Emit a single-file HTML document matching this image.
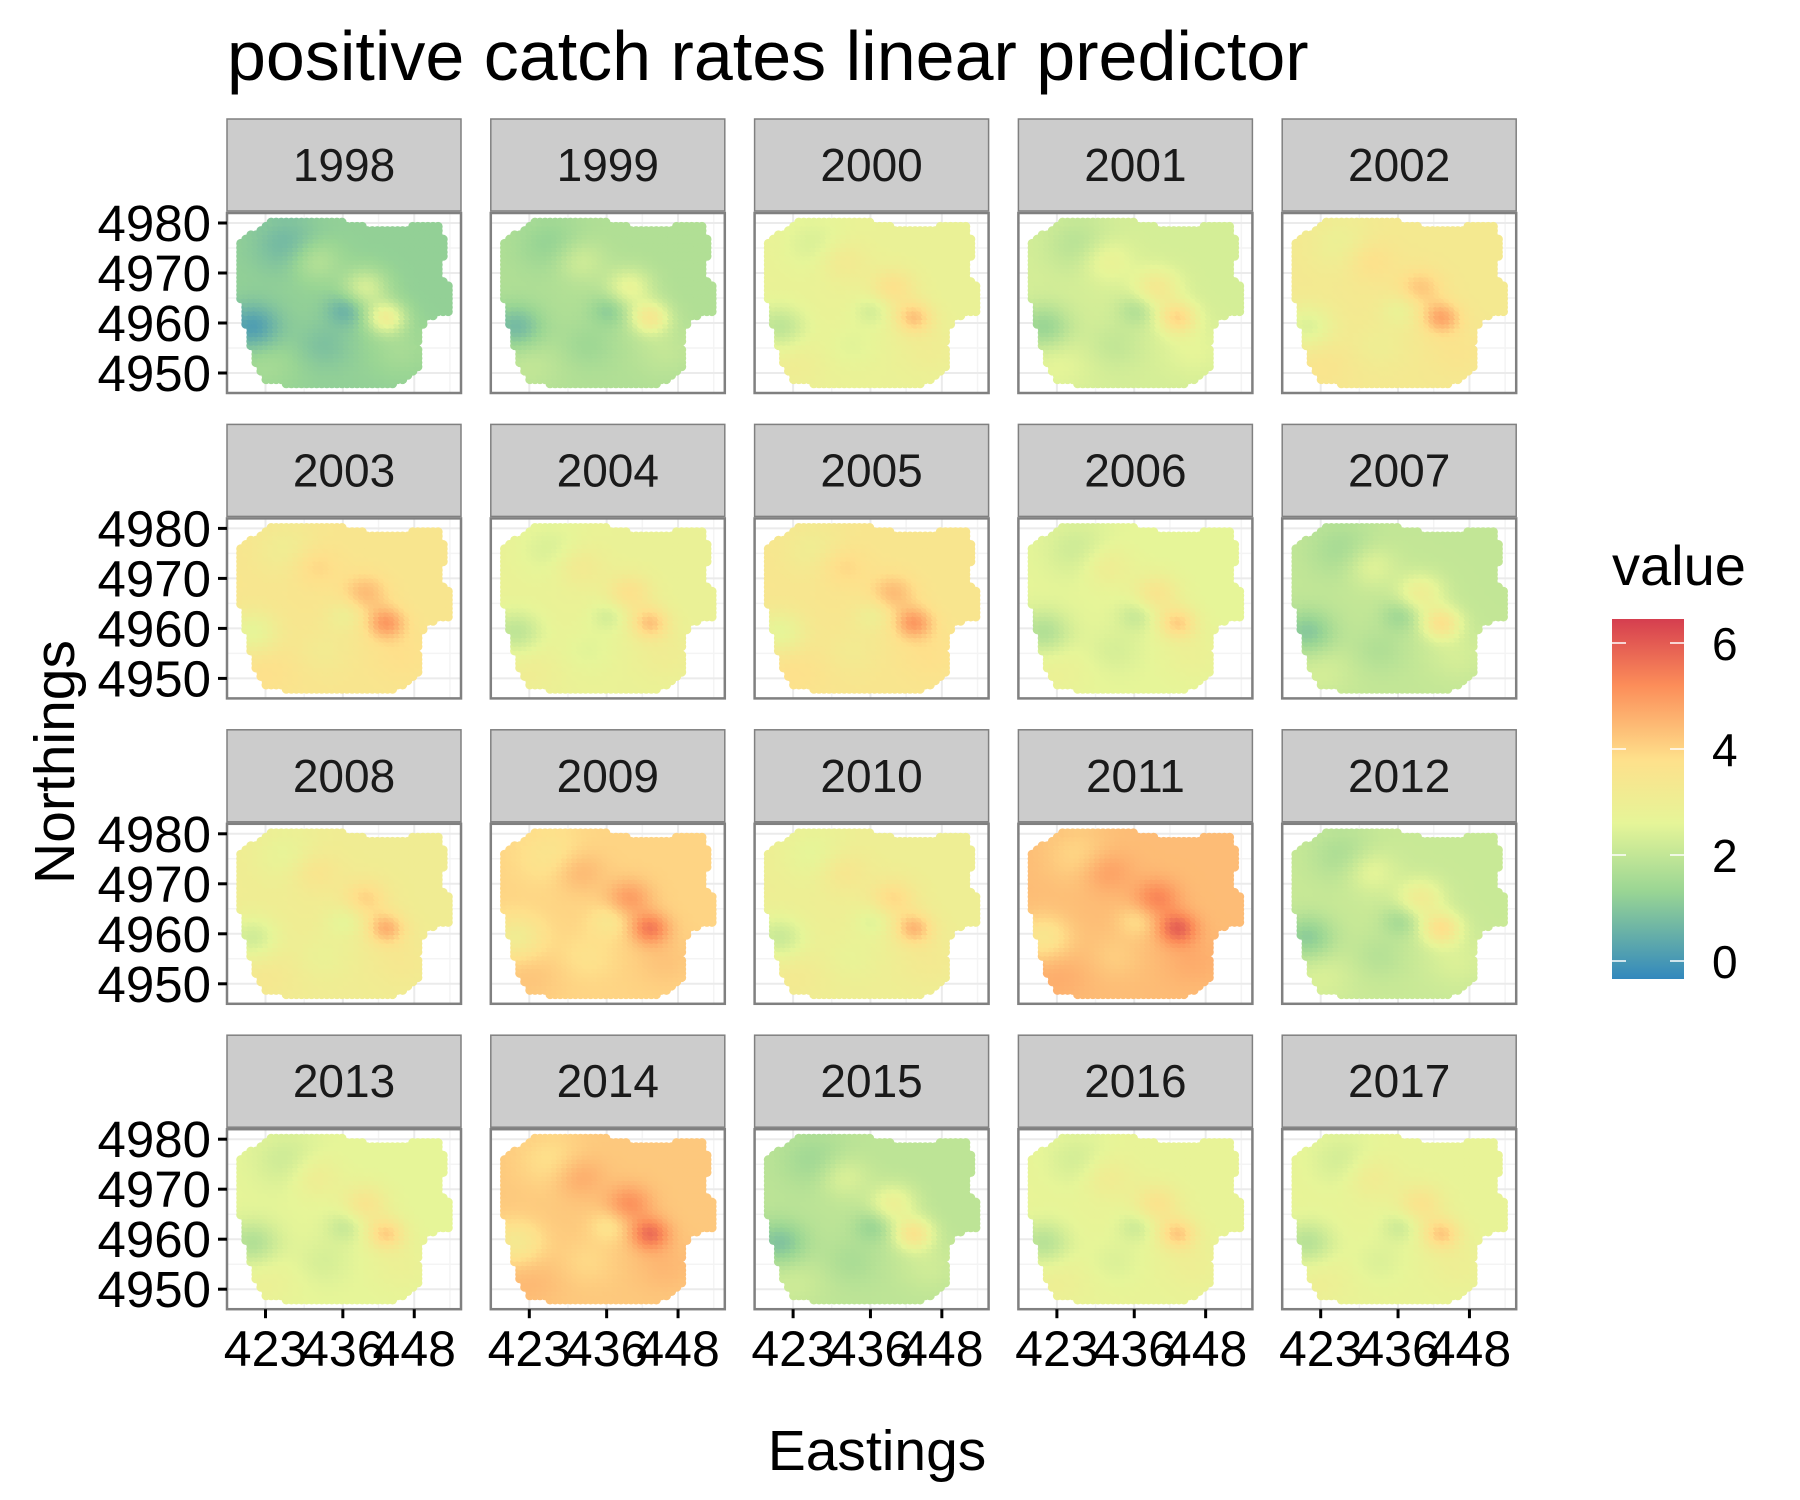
<!DOCTYPE html>
<html><head><meta charset="utf-8"><style>
html,body{margin:0;padding:0;background:#fff}
svg{display:block;font-family:"Liberation Sans",Arial,sans-serif}
</style></head><body>
<svg id="chart" width="1800" height="1500" viewBox="0 0 1800 1500">
<text x="227" y="80" font-size="70" fill="#000">positive catch rates linear predictor</text>
<text x="877" y="1470" font-size="57" text-anchor="middle" fill="#000">Eastings</text>
<text transform="translate(74,762) rotate(-90)" font-size="57" text-anchor="middle" fill="#000">Northings</text>
<defs>
<linearGradient id="cbar" x1="0" y1="1" x2="0" y2="0"></linearGradient>
</defs>
<g id="panels"></g>
<g id="legend">
<text x="1612" y="585" font-size="56">value</text>
<rect x="1612" y="619" width="72" height="360" fill="url(#cbar)"/>
</g>
</svg>
<script>
// ---- data ----
const years = [1998,1999,2000,2001,2002,2003,2004,2005,2006,2007,2008,2009,2010,2011,2012,2013,2014,2015,2016,2017];
const yearMeans = [1.2,1.7,2.8,2.3,3.3,3.5,2.8,3.5,2.6,2.0,3.1,4.0,3.0,4.4,2.1,2.6,4.2,1.9,2.7,2.7];
const yearSpread = [1.1,1.0,0.9,1.0,0.9,0.9,0.9,0.9,0.9,1.0,0.9,0.9,0.9,0.9,1.0,0.9,0.9,1.0,0.9,0.9];
const hotX = [440,443.5,431.5,421,436.6,427,423,433,446];
const hotY = [4967.5,4961.5,4973,4959.6,4963,4976,4952,4956,4955];
const hotAmp = [1.0,1.6,0.6,-1.0,-0.6,-0.5,0.3,-0.3,0.3];
const hotW = [14,10,18,20,10,30,30,20,25];
const regionX = [418.5,424,433,441,452,453.5,452,454,454,450,448.5,449,446,438,428,423,421,419.5,418];
const regionY = [4976,4980.5,4981,4979,4979.5,4975,4970,4967,4962,4961,4956,4951,4948,4947,4947.5,4948.5,4953,4960,4970];
const xTicks = [423,436,448];
const yTicks = [4950,4960,4970,4980];
const legendTicks = [0,2,4,6];
const palette = ["#3288BD","#99D594","#E6F598","#FEE08B","#FC8D59","#D53E4F"];
const paletteStops = [-0.34,1.3,2.6,3.8,5.2,6.45];

// ---- layout ----
const NS="http://www.w3.org/2000/svg";
const colLeft = c => 227 + c*263.8;
const rowTop = r => 119 + r*305.4;
const PW=234, STRIP=92, PH=180;
const xScale = (v,left) => left + 38.5 + (v-423)*5.95;
const yScale = (v,top) => top + STRIP + 2 + 10 + (4980-v)*5;
const cScale = v => 961 - v*53;

function hex(h){return [parseInt(h.slice(1,3),16),parseInt(h.slice(3,5),16),parseInt(h.slice(5,7),16)];}
function colorFor(v){
  if(v<=paletteStops[0]) return palette[0];
  for(let i=1;i<paletteStops.length;i++){
    if(v<=paletteStops[i]){
      const t=(v-paletteStops[i-1])/(paletteStops[i]-paletteStops[i-1]);
      const a=hex(palette[i-1]), b=hex(palette[i]);
      return `rgb(${a.map((x,k)=>Math.round(x+(b[k]-x)*t)).join(",")})`;
    }
  }
  return palette[palette.length-1];
}
function inside(x,y){
  let c=false;
  for(let i=0,j=regionX.length-1;i<regionX.length;j=i++){
    if(((regionY[i]>y)!==(regionY[j]>y)) && (x < (regionX[j]-regionX[i])*(y-regionY[i])/(regionY[j]-regionY[i])+regionX[i])) c=!c;
  }
  return c;
}
function field(x,y){
  let f=0;
  for(let k=0;k<hotX.length;k++){
    const d2=(x-hotX[k])**2+(y-hotY[k])**2;
    f+=hotAmp[k]*Math.exp(-d2/hotW[k]);
  }
  return f;
}
function mk(tag,attrs,parent){
  const e=document.createElementNS(NS,tag);
  for(const k in attrs) e.setAttribute(k,attrs[k]);
  parent.appendChild(e); return e;
}
const panels=document.getElementById('panels');
const defs=document.querySelector('defs');

years.forEach((yr,i)=>{
  const c=i%5, r=Math.floor(i/5);
  const L=colLeft(c), T=rowTop(r), PT=T+STRIP+2;
  const g=mk('g',{},panels);
  
  
  const strip=mk('rect',{x:L,y:T,width:PW,height:STRIP,fill:'#CCCCCC',stroke:'#808080','stroke-width':1.5},g);
  
  
  const st=mk('text',{x:L+PW/2,y:T+62,'font-size':46,'text-anchor':'middle',fill:'#1a1a1a'},g);
  st.textContent=yr;
  
  
  mk('rect',{x:L,y:PT,width:PW,height:PH,fill:'#fff'},g);
  const cp=mk('clipPath',{id:'cp'+i},defs);
  mk('rect',{x:L,y:PT,width:PW,height:PH},cp);
  const gl=mk('g',{'clip-path':`url(#cp${i})`},g);
  
  
  [416.5,429.5,442,454].forEach(v=>mk('line',{x1:xScale(v,L),x2:xScale(v,L),y1:PT,y2:PT+PH,stroke:'#F4F4F4','stroke-width':1.5},gl));
  [4945,4955,4965,4975].forEach(v=>mk('line',{y1:yScale(v,T),y2:yScale(v,T),x1:L,x2:L+PW,stroke:'#F4F4F4','stroke-width':1.5},gl));
  xTicks.forEach(v=>mk('line',{x1:xScale(v,L),x2:xScale(v,L),y1:PT,y2:PT+PH,stroke:'#EBEBEB','stroke-width':2},gl));
  yTicks.forEach(v=>mk('line',{y1:yScale(v,T),y2:yScale(v,T),x1:L,x2:L+PW,stroke:'#EBEBEB','stroke-width':2},gl));
  const pg=mk('g',{'clip-path':`url(#cp${i})`},g);
  
  
  for(let y=4947;y<=4981.5;y+=0.85){
    for(let x=418;x<=456;x+=0.85){
      if(!inside(x,y)) continue;
      const v=yearMeans[i]+field(x,y)*yearSpread[i];
      mk('circle',{cx:xScale(x,L).toFixed(1),cy:yScale(y,T).toFixed(1),r:4.6,fill:colorFor(v)},pg);
    }
  }
  const border=mk('rect',{x:L,y:PT,width:PW,height:PH,fill:'none',stroke:'#808080','stroke-width':2.5},g);
  
  
  if(c===0){
    yTicks.forEach(v=>{
      const yy=yScale(v,T);
      mk('line',{x1:L-9,x2:L,y1:yy,y2:yy,stroke:'#000','stroke-width':3},g);
      const t=mk('text',{x:L-16,y:yy+18,'font-size':51,'text-anchor':'end',fill:'#000'},g);
      t.textContent=v;
      
      
    });
  }
  if(r===3){
    xTicks.forEach(v=>{
      const xx=xScale(v,L);
      mk('line',{x1:xx,x2:xx,y1:PT+PH,y2:PT+PH+9,stroke:'#000','stroke-width':3},g);
      const t=mk('text',{x:xx,y:PT+PH+57,'font-size':50,'text-anchor':'middle',fill:'#000'},g);
      t.textContent=v;
      
      
    });
  }
});
const grad=document.getElementById('cbar');
paletteStops.forEach((s,k)=>{
  mk('stop',{offset:((s-paletteStops[0])/(paletteStops[paletteStops.length-1]-paletteStops[0])).toFixed(3),'stop-color':palette[k]},grad);
});
const lg=document.getElementById('legend');
legendTicks.forEach(v=>{
  const y=cScale(v);
  mk('line',{x1:1612,x2:1626,y1:y,y2:y,stroke:'#fff','stroke-width':1.5},lg);
  mk('line',{x1:1670,x2:1684,y1:y,y2:y,stroke:'#fff','stroke-width':1.5},lg);
  const t=mk('text',{x:1712,y:y+17,'font-size':46,fill:'#000'},lg);
  t.textContent=v;
  
  
});
</script>
</body></html>
